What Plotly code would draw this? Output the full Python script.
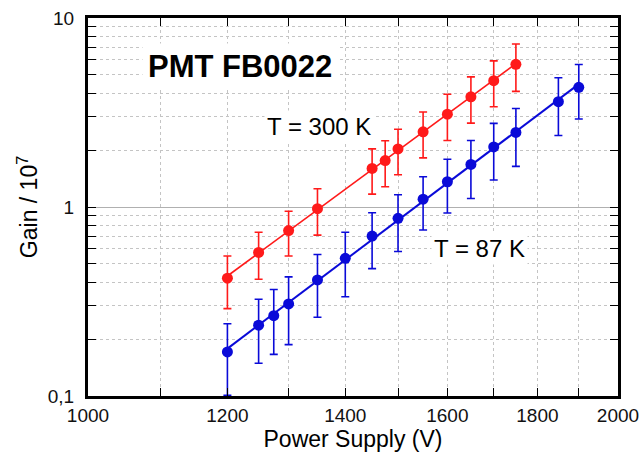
import numpy as np
import plotly.graph_objects as go

# ---- data ----
v_300 = [1200, 1250, 1300, 1350, 1450, 1475, 1500, 1550, 1600, 1650, 1700, 1750]
gain_300 = [0.42, 0.575, 0.75, 0.98, 1.60, 1.76, 2.03, 2.50, 3.10, 3.83, 4.66, 5.69]
err_300 = [0.13, 0.16, 0.20, 0.27, 0.43, 0.48, 0.55, 0.68, 0.85, 1.05, 1.27, 1.60]

v_87 = [1200, 1250, 1275, 1300, 1350, 1400, 1450, 1500, 1550, 1600, 1650, 1700, 1750, 1850, 1900]
gain_87 = [0.171, 0.237, 0.266, 0.307, 0.411, 0.535, 0.702, 0.871, 1.10, 1.36, 1.68, 2.08, 2.48, 3.61, 4.30]
err_87 = [0.070, 0.088, 0.100, 0.120, 0.150, 0.200, 0.230, 0.290, 0.345, 0.430, 0.570, 0.690, 0.840, 1.220, 1.380]

x_tickvals = [1000, 1200, 1400, 1600, 1800, 2000]
x_ticktext = ["1000", "1200", "1400", "1600", "1800", "2000"]
x_minorvals = [1100, 1300, 1500, 1700, 1900]
y_tickvals = [0.1, 1, 10]
y_ticktext = ["0,1", "1", "10"]
y_minorvals = [m * d for d in (0.1, 1) for m in range(2, 10)]

RED = "#ff1a1a"
BLUE = "#0a0ad8"
FONT = "Liberation Sans, Arial, sans-serif"


def fit_line(x, y):
    lx, ly = np.log10(x), np.log10(y)
    p = np.polyfit(lx, ly, 1)
    xs = np.array([min(x), max(x)], dtype=float)
    return xs, 10 ** np.polyval(p, np.log10(xs))


fig = go.Figure()
for x, y, e, c, w in [(v_300, gain_300, err_300, RED, 1.6), (v_87, gain_87, err_87, BLUE, 2)]:
    fx, fy = fit_line(x, y)
    fig.add_trace(go.Scatter(x=fx, y=fy, mode="lines", line=dict(color=c, width=w),
                             showlegend=False, hoverinfo="skip"))
    fig.add_trace(go.Scatter(
        x=x, y=y, mode="markers",
        marker=dict(color=c, size=11, line=dict(width=0)),
        error_y=dict(type="data", array=e, visible=True, color=c, thickness=1.6, width=4),
        showlegend=False))

axis_common = dict(
    showline=True, linecolor="black", linewidth=3, mirror="ticks",
    ticks="inside", ticklen=8, tickwidth=1, tickcolor="black",
    tickfont=dict(family=FONT, size=19, color="#111"),
    title_font=dict(family=FONT, size=23, color="black"),
    zeroline=False, automargin=False,
)

fig.update_xaxes(
    type="log", range=[np.log10(1000), np.log10(2000)],
    tickmode="array", tickvals=x_tickvals, ticktext=x_ticktext,
    showgrid=True, gridcolor="#c4c4c4", griddash="dot", gridwidth=1,
    minor=dict(tickmode="array", tickvals=x_minorvals, ticks="inside", ticklen=8,
               tickcolor="black", showgrid=True, gridcolor="#c4c4c4", griddash="dot"),
    title_text="Power Supply (V)", title_standoff=7, ticklabelstandoff=0,
    **axis_common)

fig.update_yaxes(
    type="log", range=[-1, 1],
    tickmode="array", tickvals=y_tickvals, ticktext=y_ticktext,
    showgrid=True, gridcolor="#b0b0b0", gridwidth=1.2,
    minor=dict(tickmode="array", tickvals=y_minorvals, ticks="inside", ticklen=8,
               tickcolor="black", showgrid=True, gridcolor="#c4c4c4", griddash="dot"),
    title_text="Gain / 10<sup>7</sup>", title_standoff=4, ticklabelstandoff=7,
    **axis_common)

fig.add_annotation(xref="paper", yref="paper", x=0.2877, y=0.873, text="<b>PMT FB0022</b>",
                   showarrow=False, font=dict(family=FONT, size=31, color="black"),
                   bgcolor="white", borderpad=5, xanchor="center", yanchor="middle")
fig.add_annotation(xref="paper", yref="paper", x=0.436, y=0.714, text="T = 300 K",
                   showarrow=False, font=dict(family=FONT, size=24, color="black"),
                   bgcolor="white", borderpad=2, xanchor="center", yanchor="middle")
fig.add_annotation(xref="paper", yref="paper", x=0.738, y=0.389, text="T = 87 K",
                   showarrow=False, font=dict(family=FONT, size=24, color="black"),
                   bgcolor="white", borderpad=2, xanchor="center", yanchor="middle")

fig.update_layout(
    width=640, height=457,
    margin=dict(l=88, r=22, t=18, b=61),
    paper_bgcolor="white", plot_bgcolor="white",
    font=dict(family=FONT, color="black"),
)

fig.write_html("out.html")
